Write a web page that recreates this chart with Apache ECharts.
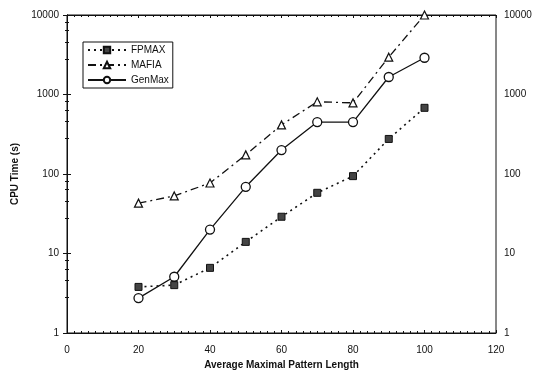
<!DOCTYPE html>
<html><head><meta charset="utf-8">
<script src="https://cdn.jsdelivr.net/npm/echarts@6/dist/echarts.min.js"></script>
<style>html,body{margin:0;padding:0;background:#fff}#c{width:538px;height:376px}</style>
</head><body><div id="c"></div>
<script>
const xValues = [20, 30, 40, 50, 60, 70, 80, 90, 100];
const fpmax  = [3.8, 4.0, 6.6, 14, 29, 58, 94, 276, 680];
const mafia  = [43, 53, 77, 174, 415, 810, 785, 2950, 10000];
const genmax = [2.75, 5.1, 20, 69, 200, 450, 450, 1660, 2900];
const seriesNames = ['FPMAX', 'MAFIA', 'GenMax'];
const xTitle = 'Average Maximal Pattern Length';
const yTitle = 'CPU Time (s)';

const pairs = arr => xValues.map((x, i) => [x, arr[i]]);
const font = 'Liberation Sans, Arial, sans-serif';
const ink = '#111';
const plain = v => String(Math.round(v));

const yAxisBase = {
  type: 'log', logBase: 10, min: 1, max: 10000,
  axisLine: {show: true, lineStyle: {color: ink, width: 1}},
  axisTick: {show: true, inside: true, length: 4, lineStyle: {color: ink}},
  minorTick: {show: true, splitNumber: 5, length: 2, lineStyle: {color: ink}},
  splitLine: {show: false},
  axisLabel: {color: ink, fontSize: 10, fontFamily: font, formatter: plain}
};

const chart = echarts.init(document.getElementById('c'), null, {renderer: 'canvas'});
chart.setOption({
  animation: false,
  backgroundColor: '#fff',
  grid: {left: 67, right: 42, top: 15, bottom: 43, show: true, borderColor: ink, borderWidth: 1},
  legend: {
    orient: 'vertical', left: 83, top: 42,
    itemWidth: 38, itemHeight: 8, itemGap: 5,
    padding: [3, 4, 3, 4],
    borderColor: ink, borderWidth: 1, backgroundColor: '#fff',
    textStyle: {color: ink, fontSize: 10, fontFamily: font},
    data: seriesNames
  },
  xAxis: [{
    type: 'value', min: 0, max: 120, interval: 20,
    name: xTitle, nameLocation: 'middle', nameGap: 22,
    nameTextStyle: {color: ink, fontSize: 10, fontWeight: 'bold', fontFamily: font},
    axisLine: {show: true, onZero: false, lineStyle: {color: ink}},
    axisTick: {show: true, inside: true, length: 3, lineStyle: {color: ink}},
    minorTick: {show: true, splitNumber: 10, length: 2, lineStyle: {color: ink}},
    splitLine: {show: false},
    axisLabel: {color: ink, fontSize: 10, fontFamily: font, margin: 12}
  }, {
    type: 'value', min: 0, max: 120, interval: 20, position: 'top',
    axisLine: {show: true, onZero: false, lineStyle: {color: ink}},
    axisTick: {show: true, inside: true, length: 3, lineStyle: {color: ink}},
    minorTick: {show: true, splitNumber: 10, length: 2, lineStyle: {color: ink}},
    splitLine: {show: false},
    axisLabel: {show: false}
  }],
  yAxis: [Object.assign({}, yAxisBase, {
    position: 'left',
    name: yTitle, nameLocation: 'middle', nameGap: 32,
    nameTextStyle: {color: ink, fontSize: 10, fontWeight: 'bold', fontFamily: font},
    axisLabel: Object.assign({}, yAxisBase.axisLabel, {margin: 8})
  }), Object.assign({}, yAxisBase, {
    position: 'right',
    axisLabel: Object.assign({}, yAxisBase.axisLabel, {margin: 8})
  })],
  series: [{
    name: seriesNames[0], type: 'line', data: pairs(fpmax),
    symbol: 'rect', symbolSize: 7,
    itemStyle: {color: '#444', borderColor: ink, borderWidth: 1},
    lineStyle: {color: ink, width: 1.6, type: [2, 4]}
  }, {
    name: seriesNames[1], type: 'line', data: pairs(mafia),
    symbol: 'triangle', symbolSize: 8,
    itemStyle: {color: '#fff', borderColor: ink, borderWidth: 1.2},
    lineStyle: {color: ink, width: 1.3, type: [8, 4, 2, 4]}
  }, {
    name: seriesNames[2], type: 'line', data: pairs(genmax),
    symbol: 'circle', symbolSize: 9,
    itemStyle: {color: '#fff', borderColor: ink, borderWidth: 1.3},
    lineStyle: {color: ink, width: 1.3, type: 'solid'}
  }]
});
</script></body></html>
